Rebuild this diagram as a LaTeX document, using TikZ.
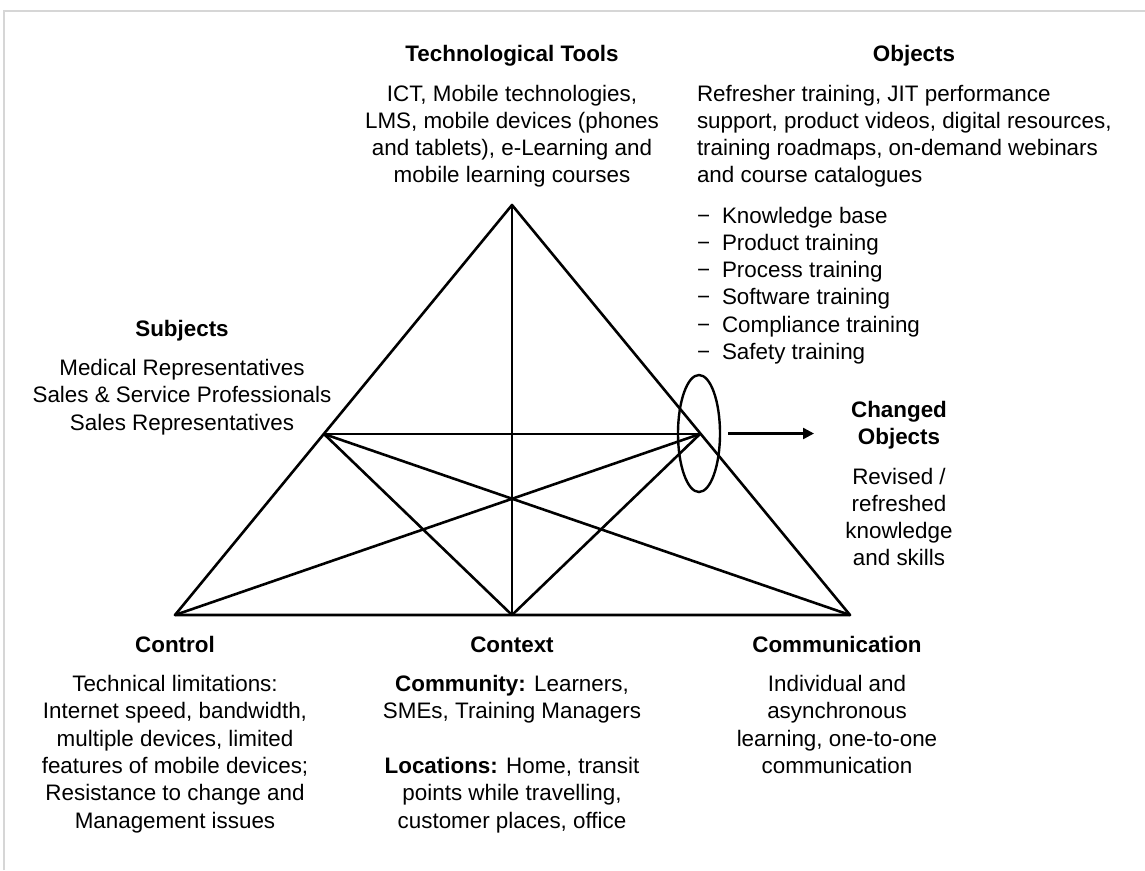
\documentclass[tikz,border=0pt]{standalone}
\usepackage{fontspec}
\setmainfont{Liberation Sans}
\usetikzlibrary{arrows.meta}
\definecolor{framegray}{HTML}{D6D6D6}
\begin{document}
\begin{tikzpicture}[x=1pt,y=-1pt,
  txt/.style={inner sep=0pt, outer sep=0pt, font=\fontsize{22.4}{27.3}\selectfont, align=center, text=black},
  hd/.style={txt, font=\fontsize{22.4}{27.3}\selectfont\bfseries},
  edge/.style={line width=2.6pt, line cap=round, line join=round},
  frame/.style={draw=framegray, line width=2pt}]
\useasboundingbox (0,0) rectangle (1145,870);
% frame
\coordinate (fBL) at (3.5,870);
\coordinate (fTL) at (3.5,10.5);
\coordinate (fTR) at (1145,10.5);
\draw[frame] (fBL) -- (fTL) -- (fTR);

% triangle points
\coordinate (A) at (512,205);
\coordinate (L) at (324,434);
\coordinate (R) at (700,434);
\coordinate (BL) at (175,615);
\coordinate (BC) at (512,615);
\coordinate (BR) at (850,615);

\draw[edge] (BL) -- (A) -- (BR) -- cycle;
\draw[edge] (A) -- (BC);
\draw[edge] (L) -- (R);
\draw[edge] (L) -- (BC) -- (R);
\draw[edge] (L) -- (BR);
\draw[edge] (R) -- (BL);

% ellipse and arrow
\coordinate (E) at (699,433.5);
\draw[line width=2.4pt] (E) ellipse [x radius=21, y radius=58.5];
\coordinate (aS) at (728,433.5);
\coordinate (aE) at (814,433.5);
\draw[line width=2.4pt, -{Triangle[length=11pt,width=11pt]}] (aS) -- (aE);

% Technological tools
\node[hd, anchor=base] (toolsH) at (512,61) {Technological Tools};
\node[txt, anchor=north] (toolsB) at (512,81.9) {\strut ICT, Mobile technologies,\\LMS, mobile devices (phones\\and tablets), e-Learning and\\mobile learning courses};

% Objects
\node[hd, anchor=base] (objH) at (914,61) {Objects};
\node[txt, align=left, anchor=north west] (objB) at (697,81.9) {\strut Refresher training, JIT performance\\support, product videos, digital resources,\\training roadmaps, on-demand webinars\\and course catalogues};
\node[txt, align=left, anchor=north west] (objL) at (697,203.9) {\strut\makebox[25pt][l]{−}Knowledge base\\\makebox[25pt][l]{−}Product training\\\makebox[25pt][l]{−}Process training\\\makebox[25pt][l]{−}Software training\\\makebox[25pt][l]{−}Compliance training\\\makebox[25pt][l]{−}Safety training};

% Subjects
\node[hd, anchor=base] (subjH) at (182,336) {Subjects};
\node[txt, anchor=north] (subjB) at (182,356.4) {\strut Medical Representatives\\Sales \& Service Professionals\\Sales Representatives};

% Changed objects
\node[hd, anchor=north] (chgH) at (899,397.9) {\strut Changed\\Objects};
\node[txt, anchor=north] (chgB) at (899,464.9) {\strut Revised /\\refreshed\\knowledge\\and skills};

% Control
\node[hd, anchor=base] (ctrlH) at (175,652) {Control};
\node[txt, anchor=north] (ctrlB) at (175,672.4) {\strut Technical limitations:\\Internet speed, bandwidth,\\multiple devices, limited\\features of mobile devices;\\Resistance to change and\\Management issues};

% Context
\node[hd, anchor=base] (ctxH) at (512,652) {Context};
\node[txt, anchor=north] (ctxB) at (512,672.4) {\strut\textbf{Community:} Learners,\\SMEs, Training Managers\\[27.3pt]\textbf{Locations:} Home, transit\\points while travelling,\\customer places, office};

% Communication
\node[hd, anchor=base] (commH) at (837,652) {Communication};
\node[txt, anchor=north] (commB) at (837,672.4) {\strut Individual and\\asynchronous\\learning, one-to-one\\communication};
\end{tikzpicture}
\end{document}
